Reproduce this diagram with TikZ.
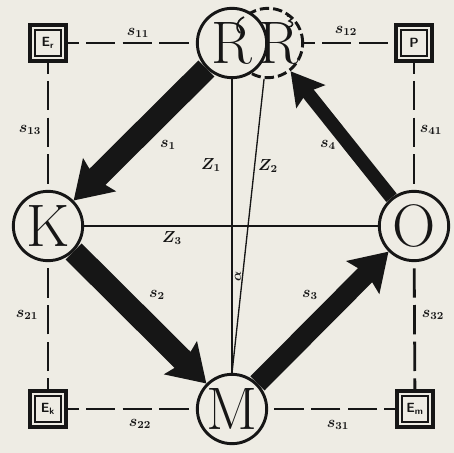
\documentclass[tikz,border=0pt]{standalone}
\usetikzlibrary{arrows.meta}
\definecolor{bg}{RGB}{238,236,228}
\definecolor{ink}{RGB}{22,22,22}
\pgfdeclarelayer{back}
\pgfdeclarelayer{lines}
\pgfsetlayers{back,lines,main}
\begin{document}
\begin{tikzpicture}[x=0.75pt,y=-0.75pt,
  bignode/.style={circle, draw=ink, line width=2.2pt, fill=bg, minimum size=52pt, inner sep=0pt, text=ink, font=\fontsize{45}{45}\selectfont},
  ghostnode/.style={circle, draw=ink, line width=2.2pt, dash pattern=on 7pt off 3pt, fill=bg, minimum size=52pt, inner sep=0pt},
  cornerbox/.style={rectangle, draw=ink, line width=3pt, fill=bg, minimum size=27pt, inner sep=0pt},
  innerbox/.style={rectangle, draw=ink, line width=1.4pt, minimum size=19pt, inner sep=0pt, text=ink, font=\sffamily\bfseries\normalsize},
  dashline/.style={draw=ink, line width=2.1pt, dash pattern=on 22pt off 5.5pt, dash phase=14pt},
  zline/.style={draw=ink, line width=1.5pt},
  blockarrow/.style={draw=ink, -{Stealth[length=27pt, width=34pt, inset=4pt]}},
  lab/.style={text=ink, font=\large\boldmath, inner sep=0pt}
]
\begin{pgfonlayer}{back}
\fill[bg] (0,0) rectangle (454,453);
\end{pgfonlayer}
\useasboundingbox (0,0) rectangle (454,453);

% nodes
\node[ghostnode] (Rp) at (268,43) {};
\node[bignode] (R) at (232,43) {R};
\node[bignode] (K) at (48,226) {K};
\node[bignode] (O) at (414,226) {O};
\node[bignode] (M) at (232,409) {M};
\node[cornerbox] (Er) at (48,43) {};
\node[cornerbox] (P) at (414,43) {};
\node[cornerbox] (Ek) at (48,409) {};
\node[cornerbox] (Em) at (415,409) {};
\node[innerbox] (Erin) at (Er) {E\textsubscript{r}};
\node[innerbox] (Pin) at (P) {P};
\node[innerbox] (Ekin) at (Ek) {E\textsubscript{k}};
\node[innerbox] (Emin) at (Em) {E\textsubscript{m}};
\node[text=ink, font=\fontsize{45}{45}\selectfont, inner sep=0pt] (Rpl) at (279,43) {R};
\draw[ink, line width=1.3pt] (244,17) .. controls (236,21) and (235,28) .. (240,33);
\draw[ink, line width=1.1pt] (287,16) .. controls (292,15) and (294,19) .. (289,21) .. controls (294,22) and (294,27) .. (288,27);

% lines and arrows behind the nodes
\begin{pgfonlayer}{lines}
\draw[zline] (R) -- (M);
\draw[zline, line width=1pt] (Rp) -- (M.north);
\draw[zline] (K) -- (O);
\draw[dashline] (Er) -- (R);
\draw[dashline] (Rp) -- (P);
\draw[dashline] (Er) -- (K);
\draw[dashline] (P) -- (O);
\draw[dashline] (Ek) -- (K);
\draw[dashline] (Ek) -- (M);
\draw[dashline] (Em) -- (M);
\draw[dashline] (Em) -- (O);
\draw[blockarrow, line width=17pt] (R) -- (K);
\draw[blockarrow, line width=17pt] (K) -- (M);
\draw[blockarrow, line width=15pt] (M) -- (O);
\draw[blockarrow, line width=10pt, -{Stealth[length=24pt, width=27pt, inset=4pt]}] (O) -- (Rp);
\end{pgfonlayer}

% labels
\node[lab] (ls11) at (138,33) {$s_{11}$};
\node[lab] (ls12) at (346,31) {$s_{12}$};
\node[lab] (ls13) at (30,130) {$s_{13}$};
\node[lab] (ls41) at (431,130) {$s_{41}$};
\node[lab] (ls21) at (27,315) {$s_{21}$};
\node[lab] (ls32) at (433,315) {$s_{32}$};
\node[lab] (ls22) at (140,424) {$s_{22}$};
\node[lab] (ls31) at (338,425) {$s_{31}$};
\node[lab] (ls1) at (168,145) {$s_{1}$};
\node[lab] (ls4) at (328,145) {$s_{4}$};
\node[lab] (ls2) at (157,295) {$s_{2}$};
\node[lab] (ls3) at (310,295) {$s_{3}$};
\node[lab] (lz1) at (211,165) {$Z_{1}$};
\node[lab] (lz2) at (268,166) {$Z_{2}$};
\node[lab] (lz3) at (172,238) {$Z_{3}$};
\node[lab, font=\normalsize\boldmath, rotate=90] (lal) at (238,276) {$\alpha$};
\end{tikzpicture}
\end{document}
